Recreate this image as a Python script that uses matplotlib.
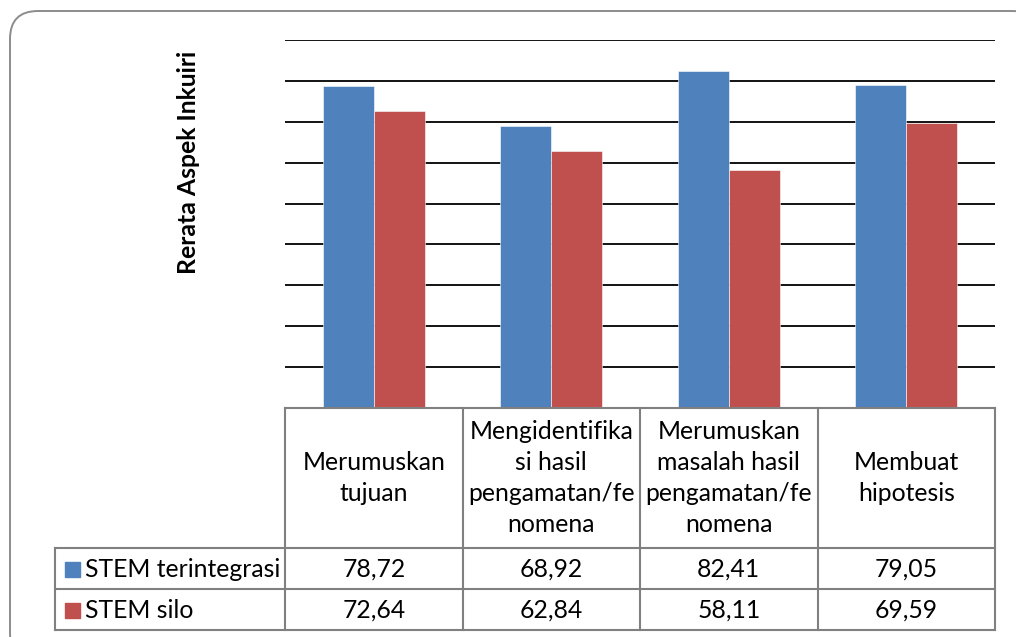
import matplotlib
matplotlib.use("Agg")
import matplotlib.pyplot as plt
from matplotlib.patches import FancyBboxPatch, Rectangle

plt.rcParams["font.family"] = ["Lato", "DejaVu Sans"]

# ---- data ----
categories = [
    "Merumuskan\ntujuan",
    "Mengidentifika\nsi hasil\npengamatan/fe\nnomena",
    "Merumuskan\nmasalah hasil\npengamatan/fe\nnomena",
    "Membuat\nhipotesis",
]
series_names = ["STEM terintegrasi", "STEM silo"]
stem_terintegrasi = [78.72, 68.92, 82.41, 79.05]
stem_silo = [72.64, 62.84, 58.11, 69.59]
y_label = "Rerata Aspek Inkuiri"

BLUE = "#4F81BD"
RED = "#C0504D"
GRID = "#808080"

W, H = 1016, 637
fig = plt.figure(figsize=(W / 100, H / 100), dpi=100)

# plot area in pixels
px_left, px_right, px_top, px_bottom = 285, 995, 40, 408
ax = fig.add_axes([px_left / W, 1 - px_bottom / H,
                   (px_right - px_left) / W, (px_bottom - px_top) / H])

n = len(categories)
bw = 0.287
xs = list(range(n))
ax.bar([x - bw / 2 for x in xs], stem_terintegrasi, width=bw, color=BLUE,
       edgecolor="white", linewidth=0.4, zorder=3)
ax.bar([x + bw / 2 for x in xs], stem_silo, width=bw, color=RED,
       edgecolor="white", linewidth=0.4, zorder=3)
ax.set_xlim(-0.5, n - 0.5)
ax.set_ylim(0, 90)
ax.set_yticks(range(10, 91, 10))
ax.yaxis.grid(True, color="black", linewidth=1.3, zorder=1)
ax.set_xticks([])
ax.tick_params(axis="y", length=0, labelleft=False)
for s in ax.spines.values():
    s.set_visible(False)

# ---- overlay in pixel coordinates for frame + y label ----
ov = fig.add_axes([0, 0, 1, 1], zorder=-1)
ov.set_xlim(0, W)
ov.set_ylim(H, 0)
ov.axis("off")

frame = FancyBboxPatch((10, 11), 1030, 650, boxstyle="round,pad=0,rounding_size=28",
                       facecolor="white", edgecolor="#8c8c8c", linewidth=1.4)
ov.add_patch(frame)

ov.text(188, 162, y_label, rotation=90, ha="center", va="center",
        fontsize=17.8, fontweight="bold")

# ---- data table under the plot ----
tbl = fig.add_axes([0, 0, 1, 1], zorder=5)
tbl.set_xlim(0, W)
tbl.set_ylim(H, 0)
tbl.axis("off")
col_w = (px_right - px_left) / n
row_y = [408, 548, 589, 630]
tab_left = 55
lw = 1.5
tbl.plot([px_left, px_right], [row_y[0], row_y[0]], color=GRID, lw=lw)
for y in row_y[1:]:
    tbl.plot([tab_left, px_right], [y, y], color=GRID, lw=lw)
tbl.plot([tab_left, tab_left], [row_y[1], row_y[3]], color=GRID, lw=lw)
for i in range(n + 1):
    x = px_left + i * col_w
    tbl.plot([x, x], [row_y[0], row_y[3]], color=GRID, lw=lw)

fs = 17.8
for i, cat in enumerate(categories):
    cx = px_left + (i + 0.5) * col_w
    tbl.text(cx, (row_y[0] + row_y[1]) / 2, cat, ha="center", va="center",
             fontsize=fs, linespacing=1.42)
    for r, vals in enumerate([stem_terintegrasi, stem_silo]):
        tbl.text(cx, (row_y[r + 1] + row_y[r + 2]) / 2 + 1,
                 f"{vals[i]:.2f}".replace(".", ","), ha="center", va="center",
                 fontsize=fs)

for r, (name, c) in enumerate(zip(series_names, [BLUE, RED])):
    cy = (row_y[r + 1] + row_y[r + 2]) / 2
    tbl.add_patch(Rectangle((65, cy - 7), 15, 15, color=c))
    tbl.text(85, cy + 1, name, ha="left", va="center", fontsize=fs)

fig.savefig("out.png", dpi=100)
